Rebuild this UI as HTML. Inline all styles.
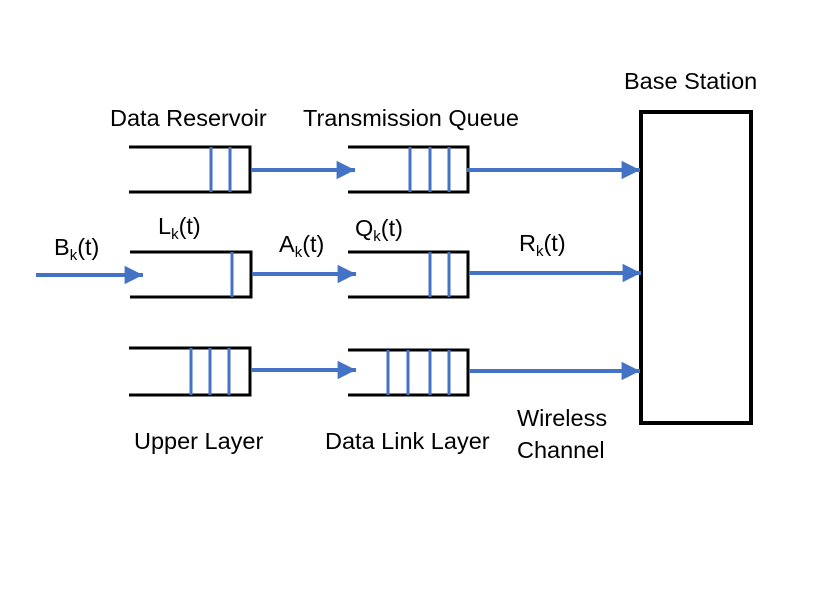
<!DOCTYPE html>
<html><head><meta charset="utf-8"><style>
body{margin:0;background:#fff}
svg text{font-family:"Liberation Sans",sans-serif;font-size:23.5px;fill:#000}
</style></head><body>
<svg width="830" height="587" xmlns="http://www.w3.org/2000/svg">
<defs><marker id="a" markerWidth="4.6" markerHeight="4.6" refX="4.6" refY="2.3" orient="auto" markerUnits="strokeWidth"><path d="M0,0L4.6,2.3L0,4.6z" fill="#4472C4"/></marker></defs>
<g stroke="#000" stroke-width="3" fill="none">
<path d="M129,147H250V192H129"/>
<path d="M130,252H251V297H130"/>
<path d="M129,348H250V395H129"/>
<path d="M348,147H468V192H348"/>
<path d="M348,252H468V297H348"/>
<path d="M348,350H468V395H348"/>
<rect x="641" y="112" width="110" height="311" stroke-width="4"/>
</g>
<g stroke="#4472C4" stroke-width="3">
<line x1="211" y1="147" x2="211" y2="192"/><line x1="230" y1="147" x2="230" y2="192"/>
<line x1="232" y1="252" x2="232" y2="297"/>
<line x1="191" y1="348" x2="191" y2="395"/><line x1="210" y1="348" x2="210" y2="395"/><line x1="229" y1="348" x2="229" y2="395"/>
<line x1="410" y1="147" x2="410" y2="192"/><line x1="430" y1="147" x2="430" y2="192"/><line x1="449" y1="147" x2="449" y2="192"/>
<line x1="430" y1="252" x2="430" y2="297"/><line x1="449" y1="252" x2="449" y2="297"/>
<line x1="388" y1="350" x2="388" y2="395"/><line x1="408" y1="350" x2="408" y2="395"/><line x1="430" y1="350" x2="430" y2="395"/><line x1="449" y1="350" x2="449" y2="395"/>
</g>
<g stroke="#4472C4" stroke-width="4" marker-end="url(#a)">
<line x1="36" y1="275" x2="143" y2="275"/>
<line x1="251" y1="170" x2="355" y2="170"/>
<line x1="252" y1="274" x2="356" y2="274"/>
<line x1="251" y1="370" x2="356" y2="370"/>
<line x1="467" y1="170" x2="640" y2="170"/>
<line x1="469" y1="273" x2="641" y2="273"/>
<line x1="469" y1="371" x2="640" y2="371"/>
</g>
<text x="624" y="89">Base Station</text>
<text x="110" y="126">Data Reservoir</text>
<text x="303" y="126">Transmission Queue</text>
<text x="158" y="234">L<tspan font-size="15" dy="5">k</tspan><tspan dy="-5">(t)</tspan></text>
<text x="54" y="255">B<tspan font-size="15" dy="5">k</tspan><tspan dy="-5">(t)</tspan></text>
<text x="279" y="252">A<tspan font-size="15" dy="5">k</tspan><tspan dy="-5">(t)</tspan></text>
<text x="355" y="236">Q<tspan font-size="15" dy="5">k</tspan><tspan dy="-5">(t)</tspan></text>
<text x="519" y="251">R<tspan font-size="15" dy="5">k</tspan><tspan dy="-5">(t)</tspan></text>
<text x="134" y="449">Upper Layer</text>
<text x="325" y="449">Data Link Layer</text>
<text x="517" y="426">Wireless</text>
<text x="517" y="458">Channel</text>
</svg>
</body></html>
